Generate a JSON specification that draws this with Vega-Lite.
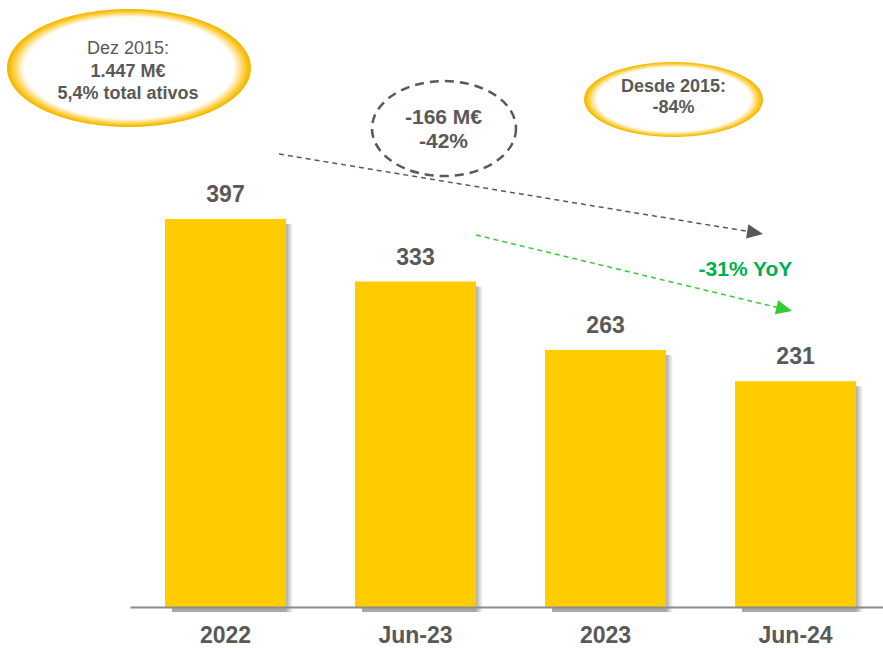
{
  "$schema": "https://vega.github.io/schema/vega-lite/v6.json",
  "width": 753,
  "height": 607,
  "autosize": {"type": "none"},
  "padding": {"left": 130, "top": 0, "right": 0, "bottom": 41},
  "background": "#FFFFFF",
  "config": {"view": {"stroke": null}},
  "datasets": {
    "bars": [
      {"period": "2022", "value": 397},
      {"period": "Jun-23", "value": 333},
      {"period": "2023", "value": 263},
      {"period": "Jun-24", "value": 231}
    ],
    "notes": [
      {"box": "dez", "line": 1, "label": "Dez 2015:", "u": -0.5132, "v": 565.7},
      {"box": "dez", "line": 2, "label": "1.447 M€", "u": -0.5132, "v": 542.2},
      {"box": "dez", "line": 3, "label": "5,4% total ativos", "u": -0.5132, "v": 519.7},
      {"box": "drop", "line": 1, "label": "-166 M€", "u": 1.1474, "v": 494.1},
      {"box": "drop", "line": 2, "label": "-42%", "u": 1.1474, "v": 469.6},
      {"box": "desde", "line": 1, "label": "Desde 2015:", "u": 2.3579, "v": 526.9},
      {"box": "desde", "line": 2, "label": "-84%", "u": 2.3579, "v": 505.4},
      {"box": "yoy", "line": 1, "label": "-31% YoY", "u": 2.7368, "v": 338.6}
    ],
    "glows": [
      {"name": "dez", "u": -0.5079, "v": 551.4},
      {"name": "desde", "u": 2.3579, "v": 519.2},
      {"name": "drop", "u": 1.15, "v": 489.5}
    ],
    "arrows": [
      {"name": "total", "u": 0.2816, "v": 463.4, "u2": 2.7605, "v2": 383.9},
      {"name": "yoy", "u": 1.3184, "v": 380.6, "u2": 2.9153, "v2": 305.9}
    ],
    "heads": [
      {"name": "total", "u": 2.7874, "v": 382.9},
      {"name": "yoy", "u": 2.9411, "v": 304.8}
    ]
  },
  "resolve": {"scale": {"x": "independent"}, "axis": {"x": "independent"}},
  "layer": [
    {
      "data": {"name": "bars"},
      "encoding": {
        "x": {
          "field": "period", "type": "nominal", "sort": null,
          "scale": {"paddingInner": 0.3632, "paddingOuter": 0.163, "align": 0.565},
          "axis": {
            "title": null, "labelAngle": 0, "labelFont": "Liberation Sans", "labelFontSize": 23,
            "labelFontWeight": "bold", "labelColor": "#595959", "ticks": false, "tickSize": 0,
            "labelPadding": 35, "labelBaseline": "alphabetic", "domainColor": "#8C8C8C",
            "domainWidth": 2, "grid": false, "zindex": 1
          }
        },
        "y": {"field": "value", "type": "quantitative", "scale": {"domain": [0, 621], "nice": false, "zero": true}, "axis": null}
      },
      "layer": [
        {
          "mark": {
            "type": "bar", "xOffset": 7, "yOffset": 5,
            "color": {"gradient": "linear", "x1": 0, "y1": 0, "x2": 1, "y2": 0,
              "stops": [{"offset": 0, "color": "#A8A8A8"}, {"offset": 0.94, "color": "#A8A8A8"}, {"offset": 1, "color": "#FFFFFF"}]}
          }
        },
        {"mark": {"type": "bar", "color": "#FFCC00"}},
        {
          "mark": {"type": "text", "dy": -17, "baseline": "alphabetic", "fontSize": 23, "fontWeight": "bold", "font": "Liberation Sans", "color": "#595959"},
          "encoding": {"text": {"field": "value", "type": "quantitative"}}
        }
      ]
    },
    {
      "encoding": {
        "x": {"field": "u", "type": "quantitative", "scale": {"domain": [-0.5026, 3.4605], "nice": false, "zero": false}, "axis": null},
        "y": {"field": "v", "type": "quantitative", "scale": {"domain": [0, 621], "nice": false, "zero": true}, "axis": null}
      },
      "layer": [
        {"data": {"name": "glows"}, "transform": [{"filter": "datum.name == 'dez'"}], "mark": {"type": "point", "shape": "M 1 0 C 1 0.2671 0.5523 0.4836 0 0.4836 C -0.5523 0.4836 -1 0.2671 -1 0 C -1 -0.2671 -0.5523 -0.4836 0 -0.4836 C 0.5523 -0.4836 1 -0.2671 1 0 Z", "filled": true, "opacity": 1, "strokeWidth": 0, "size": 59536, "color": "#F5B700"}},
        {"data": {"name": "glows"}, "transform": [{"filter": "datum.name == 'dez'"}], "mark": {"type": "point", "shape": "M 1 0 C 1 0.2671 0.5523 0.4836 0 0.4836 C -0.5523 0.4836 -1 0.2671 -1 0 C -1 -0.2671 -0.5523 -0.4836 0 -0.4836 C 0.5523 -0.4836 1 -0.2671 1 0 Z", "filled": true, "opacity": 1, "strokeWidth": 0, "size": 57178, "color": "#F9C21A"}},
        {"data": {"name": "glows"}, "transform": [{"filter": "datum.name == 'dez'"}], "mark": {"type": "point", "shape": "M 1 0 C 1 0.2671 0.5523 0.4836 0 0.4836 C -0.5523 0.4836 -1 0.2671 -1 0 C -1 -0.2671 -0.5523 -0.4836 0 -0.4836 C 0.5523 -0.4836 1 -0.2671 1 0 Z", "filled": true, "opacity": 1, "strokeWidth": 0, "size": 54868, "color": "#FCCD3C"}},
        {"data": {"name": "glows"}, "transform": [{"filter": "datum.name == 'dez'"}], "mark": {"type": "point", "shape": "M 1 0 C 1 0.2671 0.5523 0.4836 0 0.4836 C -0.5523 0.4836 -1 0.2671 -1 0 C -1 -0.2671 -0.5523 -0.4836 0 -0.4836 C 0.5523 -0.4836 1 -0.2671 1 0 Z", "filled": true, "opacity": 1, "strokeWidth": 0, "size": 52606, "color": "#FED865"}},
        {"data": {"name": "glows"}, "transform": [{"filter": "datum.name == 'dez'"}], "mark": {"type": "point", "shape": "M 1 0 C 1 0.2671 0.5523 0.4836 0 0.4836 C -0.5523 0.4836 -1 0.2671 -1 0 C -1 -0.2671 -0.5523 -0.4836 0 -0.4836 C 0.5523 -0.4836 1 -0.2671 1 0 Z", "filled": true, "opacity": 1, "strokeWidth": 0, "size": 50391, "color": "#FFE392"}},
        {"data": {"name": "glows"}, "transform": [{"filter": "datum.name == 'dez'"}], "mark": {"type": "point", "shape": "M 1 0 C 1 0.2671 0.5523 0.4836 0 0.4836 C -0.5523 0.4836 -1 0.2671 -1 0 C -1 -0.2671 -0.5523 -0.4836 0 -0.4836 C 0.5523 -0.4836 1 -0.2671 1 0 Z", "filled": true, "opacity": 1, "strokeWidth": 0, "size": 48224, "color": "#FFEEBF"}},
        {"data": {"name": "glows"}, "transform": [{"filter": "datum.name == 'dez'"}], "mark": {"type": "point", "shape": "M 1 0 C 1 0.2671 0.5523 0.4836 0 0.4836 C -0.5523 0.4836 -1 0.2671 -1 0 C -1 -0.2671 -0.5523 -0.4836 0 -0.4836 C 0.5523 -0.4836 1 -0.2671 1 0 Z", "filled": true, "opacity": 1, "strokeWidth": 0, "size": 46105, "color": "#FFF8E6"}},
        {"data": {"name": "glows"}, "transform": [{"filter": "datum.name == 'dez'"}], "mark": {"type": "point", "shape": "M 1 0 C 1 0.2671 0.5523 0.4836 0 0.4836 C -0.5523 0.4836 -1 0.2671 -1 0 C -1 -0.2671 -0.5523 -0.4836 0 -0.4836 C 0.5523 -0.4836 1 -0.2671 1 0 Z", "filled": true, "opacity": 1, "strokeWidth": 0, "size": 44033, "color": "#FFFFFF"}},
        {"data": {"name": "glows"}, "transform": [{"filter": "datum.name == 'desde'"}], "mark": {"type": "point", "shape": "M 1 0 C 1 0.2314 0.5523 0.419 0 0.419 C -0.5523 0.419 -1 0.2314 -1 0 C -1 -0.2314 -0.5523 -0.419 0 -0.419 C 0.5523 -0.419 1 -0.2314 1 0 Z", "filled": true, "opacity": 1, "strokeWidth": 0, "size": 32041, "color": "#F5B700"}},
        {"data": {"name": "glows"}, "transform": [{"filter": "datum.name == 'desde'"}], "mark": {"type": "point", "shape": "M 1 0 C 1 0.2314 0.5523 0.419 0 0.419 C -0.5523 0.419 -1 0.2314 -1 0 C -1 -0.2314 -0.5523 -0.419 0 -0.419 C 0.5523 -0.419 1 -0.2314 1 0 Z", "filled": true, "opacity": 1, "strokeWidth": 0, "size": 30772, "color": "#F9C21A"}},
        {"data": {"name": "glows"}, "transform": [{"filter": "datum.name == 'desde'"}], "mark": {"type": "point", "shape": "M 1 0 C 1 0.2314 0.5523 0.419 0 0.419 C -0.5523 0.419 -1 0.2314 -1 0 C -1 -0.2314 -0.5523 -0.419 0 -0.419 C 0.5523 -0.419 1 -0.2314 1 0 Z", "filled": true, "opacity": 1, "strokeWidth": 0, "size": 29529, "color": "#FCCD3C"}},
        {"data": {"name": "glows"}, "transform": [{"filter": "datum.name == 'desde'"}], "mark": {"type": "point", "shape": "M 1 0 C 1 0.2314 0.5523 0.419 0 0.419 C -0.5523 0.419 -1 0.2314 -1 0 C -1 -0.2314 -0.5523 -0.419 0 -0.419 C 0.5523 -0.419 1 -0.2314 1 0 Z", "filled": true, "opacity": 1, "strokeWidth": 0, "size": 28311, "color": "#FED865"}},
        {"data": {"name": "glows"}, "transform": [{"filter": "datum.name == 'desde'"}], "mark": {"type": "point", "shape": "M 1 0 C 1 0.2314 0.5523 0.419 0 0.419 C -0.5523 0.419 -1 0.2314 -1 0 C -1 -0.2314 -0.5523 -0.419 0 -0.419 C 0.5523 -0.419 1 -0.2314 1 0 Z", "filled": true, "opacity": 1, "strokeWidth": 0, "size": 27120, "color": "#FFE392"}},
        {"data": {"name": "glows"}, "transform": [{"filter": "datum.name == 'desde'"}], "mark": {"type": "point", "shape": "M 1 0 C 1 0.2314 0.5523 0.419 0 0.419 C -0.5523 0.419 -1 0.2314 -1 0 C -1 -0.2314 -0.5523 -0.419 0 -0.419 C 0.5523 -0.419 1 -0.2314 1 0 Z", "filled": true, "opacity": 1, "strokeWidth": 0, "size": 25953, "color": "#FFEEBF"}},
        {"data": {"name": "glows"}, "transform": [{"filter": "datum.name == 'desde'"}], "mark": {"type": "point", "shape": "M 1 0 C 1 0.2314 0.5523 0.419 0 0.419 C -0.5523 0.419 -1 0.2314 -1 0 C -1 -0.2314 -0.5523 -0.419 0 -0.419 C 0.5523 -0.419 1 -0.2314 1 0 Z", "filled": true, "opacity": 1, "strokeWidth": 0, "size": 24813, "color": "#FFF8E6"}},
        {"data": {"name": "glows"}, "transform": [{"filter": "datum.name == 'desde'"}], "mark": {"type": "point", "shape": "M 1 0 C 1 0.2314 0.5523 0.419 0 0.419 C -0.5523 0.419 -1 0.2314 -1 0 C -1 -0.2314 -0.5523 -0.419 0 -0.419 C 0.5523 -0.419 1 -0.2314 1 0 Z", "filled": true, "opacity": 1, "strokeWidth": 0, "size": 23698, "color": "#FFFFFF"}},
        {"data": {"name": "glows"}, "transform": [{"filter": "datum.name == 'drop'"}], "mark": {"type": "point", "shape": "M 1 0 C 1 0.3645 0.5523 0.66 0 0.66 C -0.5523 0.66 -1 0.3645 -1 0 C -1 -0.3645 -0.5523 -0.66 0 -0.66 C 0.5523 -0.66 1 -0.3645 1 0 Z", "filled": false, "opacity": 1, "strokeWidth": 2.5, "strokeDash": [9, 6], "size": 20736, "color": "#595959"}},
        {"data": {"name": "arrows"}, "transform": [{"filter": "datum.name == 'total'"}], "mark": {"type": "rule", "color": "#595959", "strokeWidth": 1.5, "strokeDash": [5, 4]}, "encoding": {"x2": {"field": "u2"}, "y2": {"field": "v2"}}},
        {"data": {"name": "arrows"}, "transform": [{"filter": "datum.name == 'yoy'"}], "mark": {"type": "rule", "color": "#33CC33", "strokeWidth": 1.5, "strokeDash": [5, 4]}, "encoding": {"x2": {"field": "u2"}, "y2": {"field": "v2"}}},
        {"data": {"name": "heads"}, "transform": [{"filter": "datum.name == 'total'"}], "mark": {"type": "point", "shape": "M 1 0 L -1 -0.9 L -1 0.9 Z", "filled": true, "opacity": 1, "strokeWidth": 0, "size": 256, "angle": 9.4, "color": "#595959"}},
        {"data": {"name": "heads"}, "transform": [{"filter": "datum.name == 'yoy'"}], "mark": {"type": "point", "shape": "M 1 0 L -1 -0.9 L -1 0.9 Z", "filled": true, "opacity": 1, "strokeWidth": 0, "size": 256, "angle": 13.5, "color": "#33CC33"}},
        {"data": {"name": "notes"}, "transform": [{"filter": "datum.box == 'dez' && datum.line == 1"}], "mark": {"type": "text", "align": "center", "baseline": "alphabetic", "font": "Liberation Sans", "fontSize": 18, "fontWeight": "normal", "color": "#595959"}, "encoding": {"text": {"field": "label"}}},
        {"data": {"name": "notes"}, "transform": [{"filter": "(datum.box == 'dez' && datum.line > 1) || datum.box == 'desde'"}], "mark": {"type": "text", "align": "center", "baseline": "alphabetic", "font": "Liberation Sans", "fontSize": 18, "fontWeight": "bold", "color": "#595959"}, "encoding": {"text": {"field": "label"}}},
        {"data": {"name": "notes"}, "transform": [{"filter": "datum.box == 'drop'"}], "mark": {"type": "text", "align": "center", "baseline": "alphabetic", "font": "Liberation Sans", "fontSize": 21, "fontWeight": "bold", "color": "#595959"}, "encoding": {"text": {"field": "label"}}},
        {"data": {"name": "notes"}, "transform": [{"filter": "datum.box == 'yoy'"}], "mark": {"type": "text", "align": "center", "baseline": "alphabetic", "font": "Liberation Sans", "fontSize": 21, "fontWeight": "bold", "color": "#00B050"}, "encoding": {"text": {"field": "label"}}}
      ]
    }
  ]
}
